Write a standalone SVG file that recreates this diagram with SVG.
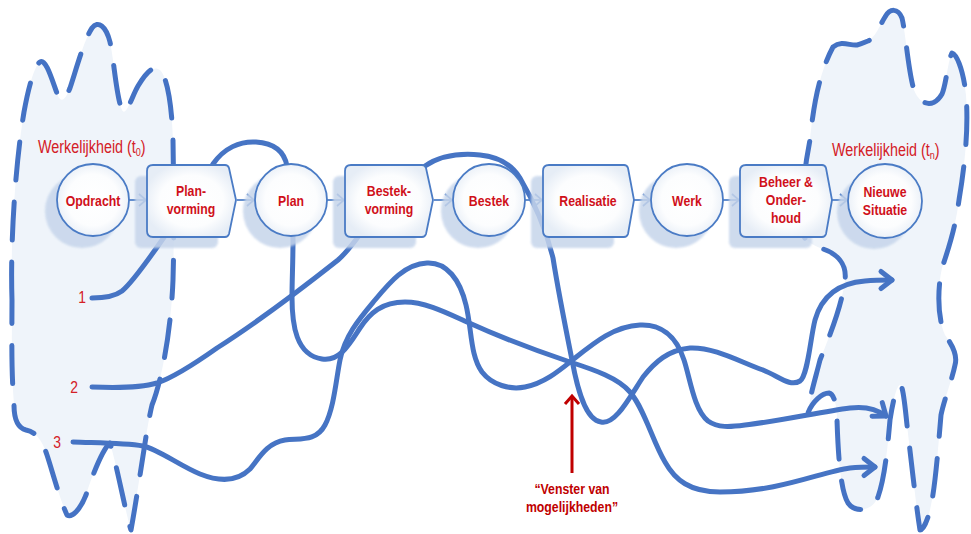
<svg xmlns="http://www.w3.org/2000/svg" width="971" height="534" viewBox="0 0 971 534">
  <defs>
    <style>
      .cloud { fill: #EFF4FA; stroke: #4472C4; stroke-width: 5; stroke-dasharray: 38 22; stroke-linecap: round; stroke-linejoin: round; }
      .path { fill: none; stroke: #4674C4; stroke-width: 5; stroke-linecap: round; stroke-linejoin: round; }
      .flow { fill: none; stroke: #4A7BC5; stroke-width: 1.7; }
      .node { fill: url(#nodeFill); stroke: #4A7BC5; stroke-width: 1.8; }
      .shadow { fill: #C6D5EB; opacity: 0.85; }
      .lbl { font-family: 'Liberation Sans', Arial, sans-serif; font-weight: bold; font-size: 15px; fill: #D0101A; text-anchor: middle; }
      .title { font-family: 'Liberation Sans', Arial, sans-serif; font-size: 17.5px; fill: #D42027; }
      .num { font-family: 'Liberation Sans', Arial, sans-serif; font-size: 17px; fill: #D42027; text-anchor: middle; }
      .note { font-family: 'Liberation Sans', Arial, sans-serif; font-weight: bold; font-size: 15px; fill: #C00000; text-anchor: middle; }
    </style>
    <radialGradient id="nodeFill" cx="50%" cy="50%" r="55%">
      <stop offset="0" stop-color="#FFFFFF"/>
      <stop offset="0.65" stop-color="#FCFDFE"/>
      <stop offset="1" stop-color="#E6EDF6"/>
    </radialGradient>
    <filter id="soft" x="-20%" y="-20%" width="140%" height="140%">
      <feGaussianBlur stdDeviation="0.8"/>
    </filter>
    <marker id="flowhead" markerUnits="userSpaceOnUse" viewBox="-9 -8 11 16" refX="0" refY="0" markerWidth="11" markerHeight="16" orient="auto">
      <path d="M-7,-6 L0,0 L-7,6" fill="none" stroke="#4A7BC5" stroke-width="1.7"/>
    </marker>
    <marker id="bighead" markerUnits="userSpaceOnUse" viewBox="-16 -14 20 28" refX="0" refY="0" markerWidth="20" markerHeight="28" orient="auto">
      <path d="M-11,-8.5 L0,0 L-11,8.5" fill="none" stroke="#4674C4" stroke-width="5" stroke-linecap="round" stroke-linejoin="round"/>
    </marker>
  </defs>

  <rect width="971" height="534" fill="#FFFFFF"/>

  <!-- reality at t0 (left) and tn (right) -->
  <g id="reality-t0">
    <path class="cloud" d="M12,300 C10,240 16,160 24,112 C28,90 34,66 40,62 C46,58 52,80 58,96 C62,104 66,98 70,88 C76,70 84,40 92,28 C98,20 106,26 110,42 C114,60 116,95 122,110 C126,118 132,96 138,86 C144,76 152,64 160,70 C168,78 172,110 173,140 C174,200 174,250 173,280 C171,330 162,380 152,405 C146,430 140,480 131,530 C126,515 118,470 110,443 C104,448 94,470 86,495 C80,510 72,518 67,515 C60,500 52,470 47,455 C42,440 36,432 26,430 C18,428 14,420 14,405 C11,370 12,330 12,300 Z"/>
    <text class="title" transform="translate(38,153) scale(0.82,1)">Werkelijkheid (t<tspan font-size="11" dy="3">0</tspan><tspan dy="-3">)</tspan></text>
  </g>
  <g id="reality-tn">
    <path class="cloud" d="M833,47 C842,40 850,46 857,45 C862,44 865,42 868,41 C875,38 880,25 885,17 C890,8 898,8 902,18 C906,35 908,70 914,90 C920,106 934,108 942,94 C946,85 948,60 952,53 C958,55 964,75 966,95 C969,130 964,170 959,200 C955,230 948,250 942,268 C937,290 938,320 945,335 C952,345 958,355 955,365 C952,380 944,400 941,415 C938,450 935,490 930,510 C927,522 923,530 920,530 C916,505 910,450 907,425 C905,405 903,385 900,385 C897,385 893,400 890,420 C887,455 884,480 878,497 C872,512 855,513 848,503 C840,490 838,450 837,420 C837,405 834,394 829,393 C822,393 812,402 808,413 C810,395 815,380 820,360 C830,335 842,305 845,280 C847,265 838,254 823,249 C812,245 803,240 801,230 C800,200 806,160 810,140 C813,110 818,75 833,47 Z"/>
    <text class="title" transform="translate(832,156) scale(0.82,1)">Werkelijkheid (t<tspan font-size="11" dy="3">n</tspan><tspan dy="-3">)</tspan></text>
  </g>

  <!-- connectors: three possible routes plus the process flow -->
  <g id="connectors">
    <path id="route-1" class="path" marker-end="url(#bighead)" d="M92,298 C104,298 114,297 122,291 C132,283 148,260 160,243 C175,222 198,188 213,164 C224,148 240,141 256,142 C272,143 284,150 287,166 C290,185 293,215 293,240 C293,262 292,280 292,297 C292,325 296,355 322,359 C340,362 350,343 360,328 C370,313 382,302 405,302 C425,302 445,312 467,322 C500,337 540,352 570,362 C595,370 618,378 630,392 C645,410 652,440 665,462 C675,480 690,492 720,492 C780,492 820,472 850,468 C860,467 868,467 875,467"/>
    <path id="route-2" class="path" marker-end="url(#bighead)" d="M92,387 C115,388 140,388 157,383 C175,377 200,360 217,348 C250,327 300,290 338,260 C345,254 352,245 358,237 C380,210 405,180 425,166 C440,156 460,153 480,155 C500,157 512,165 520,178 C530,195 545,225 553,258 C558,290 566,330 572,360 C577,387 585,420 601,422 C615,425 628,400 643,377 C655,362 668,350 690,348 C715,347 740,362 763,370 C780,377 790,387 800,381 C808,375 810,340 815,320 C822,295 840,283 865,281 C875,280 884,280 892,280"/>
    <path id="route-3" class="path" marker-end="url(#bighead)" d="M73,442 C100,443 125,443 143,446 C158,449 180,466 200,474 C215,480 235,484 250,469 C258,460 266,443 285,440 C300,438 316,442 325,425 C334,408 336,380 340,360 C345,335 360,318 375,300 C390,282 405,264 427,263 C447,262 460,280 466,305 C472,330 470,355 482,372 C492,385 510,390 525,387 C545,383 560,370 575,358 C595,342 615,326 640,325 C660,324 676,335 684,360 C690,378 694,410 708,421 C718,428 730,427 745,425 C780,421 820,412 850,408 C865,406 878,410 886,416"/>

    <line class="flow" marker-end="url(#flowhead)" x1="129" y1="200" x2="146" y2="200"/>
    <line class="flow" marker-end="url(#flowhead)" x1="237" y1="200" x2="254" y2="200"/>
    <line class="flow" marker-end="url(#flowhead)" x1="327" y1="200" x2="344" y2="200"/>
    <line class="flow" marker-end="url(#flowhead)" x1="434" y1="200" x2="452" y2="200"/>
    <line class="flow" marker-end="url(#flowhead)" x1="525" y1="200" x2="542" y2="200"/>
    <line class="flow" marker-end="url(#flowhead)" x1="634" y1="200" x2="650" y2="200"/>
    <line class="flow" marker-end="url(#flowhead)" x1="723" y1="200" x2="739" y2="200"/>
    <line class="flow" marker-end="url(#flowhead)" x1="832" y1="200" x2="847" y2="200"/>
  </g>

  <!-- process nodes -->
  <g id="opdracht">
    <circle class="shadow" filter="url(#soft)" cx="82" cy="211" r="37"/>
    <circle class="node" cx="93" cy="200" r="36"/>
    <text class="lbl" transform="translate(93,206) scale(0.82,1)">Opdracht</text>
  </g>
  <g id="planvorming">
    <rect class="shadow" filter="url(#soft)" x="135" y="176" width="83" height="72" rx="6"/>
    <path class="node" d="M153,165 H225 Q228,165 229,168 L236,200 L229,234 Q228,237 225,237 H153 Q147,237 147,231 V171 Q147,165 153,165 Z"/>
    <text class="lbl" transform="translate(191,196) scale(0.82,1)">Plan-</text>
    <text class="lbl" transform="translate(191,214) scale(0.82,1)">vorming</text>
  </g>
  <g id="plan">
    <circle class="shadow" filter="url(#soft)" cx="280" cy="211" r="37"/>
    <circle class="node" cx="291" cy="200" r="36"/>
    <text class="lbl" transform="translate(291,206) scale(0.82,1)">Plan</text>
  </g>
  <g id="bestekvorming">
    <rect class="shadow" filter="url(#soft)" x="333" y="176" width="83" height="72" rx="6"/>
    <path class="node" d="M351,165 H422 Q425,165 426,168 L433,200 L426,234 Q425,237 422,237 H351 Q345,237 345,231 V171 Q345,165 351,165 Z"/>
    <text class="lbl" transform="translate(389,196) scale(0.82,1)">Bestek-</text>
    <text class="lbl" transform="translate(389,214) scale(0.82,1)">vorming</text>
  </g>
  <g id="bestek">
    <circle class="shadow" filter="url(#soft)" cx="478" cy="211" r="37"/>
    <circle class="node" cx="489" cy="200" r="36"/>
    <text class="lbl" transform="translate(489,206) scale(0.82,1)">Bestek</text>
  </g>
  <g id="realisatie">
    <rect class="shadow" filter="url(#soft)" x="531" y="176" width="83" height="72" rx="6"/>
    <path class="node" d="M549,165 H624 Q627,165 628,168 L634,200 L628,234 Q627,237 624,237 H549 Q543,237 543,231 V171 Q543,165 549,165 Z"/>
    <text class="lbl" transform="translate(588,206) scale(0.82,1)">Realisatie</text>
  </g>
  <g id="werk">
    <circle class="shadow" filter="url(#soft)" cx="676" cy="211" r="37"/>
    <circle class="node" cx="687" cy="200" r="36"/>
    <text class="lbl" transform="translate(687,206) scale(0.82,1)">Werk</text>
  </g>
  <g id="beheer-onderhoud">
    <rect class="shadow" filter="url(#soft)" x="729" y="176" width="83" height="72" rx="6"/>
    <path class="node" d="M746,165 H822 Q825,165 826,168 L832,200 L826,234 Q825,237 822,237 H746 Q740,237 740,231 V171 Q740,165 746,165 Z"/>
    <text class="lbl" transform="translate(786,187) scale(0.82,1)">Beheer &amp;</text>
    <text class="lbl" transform="translate(786,205) scale(0.82,1)">Onder-</text>
    <text class="lbl" transform="translate(786,223) scale(0.82,1)">houd</text>
  </g>
  <g id="nieuwe-situatie">
    <circle class="shadow" filter="url(#soft)" cx="874" cy="212" r="37"/>
    <circle class="node" cx="885" cy="201" r="37"/>
    <text class="lbl" transform="translate(885,197) scale(0.82,1)">Nieuwe</text>
    <text class="lbl" transform="translate(885,215) scale(0.82,1)">Situatie</text>
  </g>

  <!-- route numbers -->
  <g id="route-numbers">
    <text class="num" transform="translate(82,303) scale(0.82,1)">1</text>
    <text class="num" transform="translate(74,393) scale(0.82,1)">2</text>
    <text class="num" transform="translate(57,448) scale(0.82,1)">3</text>
  </g>

  <!-- window of opportunity -->
  <g id="venster">
    <line x1="572" y1="473" x2="572" y2="397" stroke="#C00000" stroke-width="3"/>
    <path d="M565,404 L572,396 L579,404" fill="none" stroke="#C00000" stroke-width="3"/>
    <text class="note" transform="translate(572,494) scale(0.82,1)">“Venster van</text>
    <text class="note" transform="translate(572,512) scale(0.82,1)">mogelijkheden”</text>
  </g>
</svg>
